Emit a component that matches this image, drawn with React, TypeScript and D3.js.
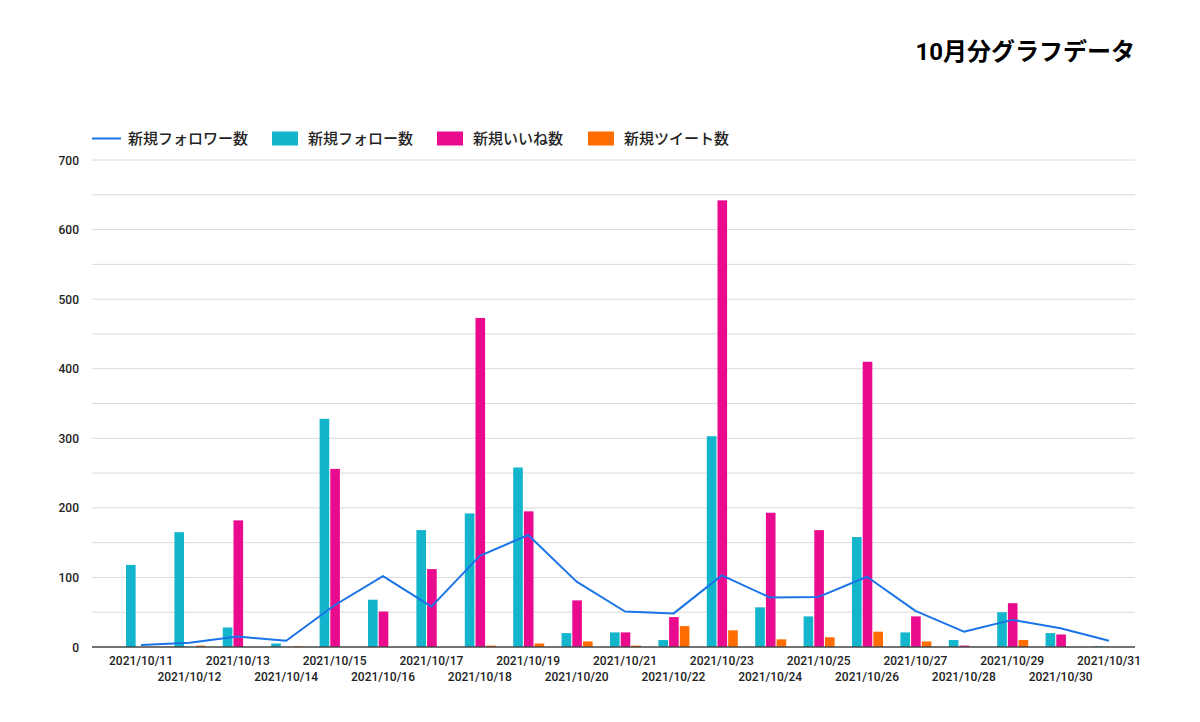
import React, { useRef, useEffect } from "react";
import * as d3 from "d3";

// Dates (2021/10/11 - 2021/10/31)
const dates: string[] = [
  "2021/10/11", "2021/10/12", "2021/10/13", "2021/10/14", "2021/10/15",
  "2021/10/16", "2021/10/17", "2021/10/18", "2021/10/19", "2021/10/20",
  "2021/10/21", "2021/10/22", "2021/10/23", "2021/10/24", "2021/10/25",
  "2021/10/26", "2021/10/27", "2021/10/28", "2021/10/29", "2021/10/30",
  "2021/10/31",
];

// 新規フォロワー数 (line)
const followers: number[] = [3, 6, 15, 9, 60, 102, 58, 131, 161, 94, 51, 48, 103, 71, 72, 101, 52, 22, 39, 27, 9];
// 新規フォロー数 (bar)
const follows: number[] = [118, 165, 28, 5, 328, 68, 168, 192, 258, 20, 21, 10, 303, 57, 44, 158, 21, 10, 50, 20, 1];
// 新規いいね数 (bar)
const likes: number[] = [0, 0, 182, 0, 256, 51, 112, 473, 195, 67, 21, 43, 642, 193, 168, 410, 44, 2, 63, 18, 0];
// 新規ツイート数 (bar)
const tweets: number[] = [0, 2, 0, 1, 0, 0, 0, 2, 5, 8, 2, 30, 24, 11, 14, 22, 8, 0, 10, 0, 0];

const yTicks: number[] = [0, 100, 200, 300, 400, 500, 600, 700];

const barSeries = [
  { name: "新規フォロー数", values: follows, color: "#12b5cb" },
  { name: "新規いいね数", values: likes, color: "#ea0a8e" },
  { name: "新規ツイート数", values: tweets, color: "#ff6d01" },
];
const lineColor = "#1a73e8";
const lineName = "新規フォロワー数";

const font = "Roboto, 'Noto Sans CJK JP', sans-serif";

const App: React.FC = () => {
  const svgRef = useRef<SVGSVGElement>(null);

  useEffect(() => {
    const width = 1200;
    const height = 722;
    const gridLeft = 92;
    const gridRight = 1135;

    const svg = d3.select(svgRef.current);
    svg.selectAll("*").remove();
    svg.attr("width", width).attr("height", height);

    svg.append("rect").attr("width", width).attr("height", height).attr("fill", "#fff");

    const x = d3.scaleBand().domain(dates).range([116.8, 1133.2]).paddingInner(0).paddingOuter(0);
    const y = d3.scaleLinear().domain([0, 700]).range([647, 160]);
    const inner = d3
      .scaleBand()
      .domain(barSeries.map(s => s.name))
      .range([-15, 16])
      .paddingInner(0.1);

    const cx = (d: string) => (x(d) ?? 0) + x.bandwidth() / 2;

    // gridlines every 50
    const grid = d3.range(50, 701, 50);
    svg.append("g")
      .selectAll("line")
      .data(grid)
      .enter()
      .append("line")
      .attr("x1", gridLeft)
      .attr("x2", gridRight)
      .attr("y1", d => y(d))
      .attr("y2", d => y(d))
      .attr("stroke", "#dadada")
      .attr("stroke-width", 1);

    // y labels
    svg.append("g")
      .selectAll("text")
      .data(yTicks)
      .enter()
      .append("text")
      .attr("x", 79)
      .attr("y", d => y(d) + 4.5)
      .attr("text-anchor", "end")
      .attr("font-family", font)
      .attr("font-size", 12)
      .attr("font-weight", 500)
      .attr("fill", "#222")
      .text(d => d);

    // bars
    barSeries.forEach(s => {
      svg.append("g")
        .selectAll("rect")
        .data(s.values.map((v, i) => ({ date: dates[i], v })))
        .enter()
        .append("rect")
        .attr("x", d => cx(d.date) + (inner(s.name) ?? 0))
        .attr("width", inner.bandwidth())
        .attr("y", d => y(d.v))
        .attr("height", d => y(0) - y(d.v))
        .attr("fill", s.color);
    });

    // baseline
    svg.append("line")
      .attr("x1", gridLeft)
      .attr("x2", gridRight)
      .attr("y1", y(0))
      .attr("y2", y(0))
      .attr("stroke", "#444")
      .attr("stroke-width", 1.5);

    // line series
    const line = d3
      .line<number>()
      .x((_, i) => cx(dates[i]))
      .y(d => y(d));
    svg.append("path")
      .datum(followers)
      .attr("d", line)
      .attr("fill", "none")
      .attr("stroke", lineColor)
      .attr("stroke-width", 2)
      .attr("stroke-linejoin", "round");

    // x labels, staggered in two rows
    svg.append("g")
      .selectAll("text")
      .data(dates)
      .enter()
      .append("text")
      .attr("x", d => cx(d))
      .attr("y", (_, i) => (i % 2 === 0 ? 665 : 681))
      .attr("text-anchor", "middle")
      .attr("font-family", font)
      .attr("font-size", 12)
      .attr("font-weight", 500)
      .attr("fill", "#222")
      .text(d => d);

    // legend
    const legend = svg.append("g")
      .attr("font-family", font)
      .attr("font-size", 15)
      .attr("font-weight", 500)
      .attr("fill", "#222");
    legend.append("line")
      .attr("x1", 92).attr("x2", 121).attr("y1", 138.5).attr("y2", 138.5)
      .attr("stroke", lineColor).attr("stroke-width", 2);
    legend.append("text").attr("x", 128).attr("y", 144).text(lineName);
    const swatchX = [272, 437, 588];
    barSeries.forEach((s, i) => {
      legend.append("rect")
        .attr("x", swatchX[i]).attr("y", 131.5).attr("width", 26).attr("height", 14)
        .attr("fill", s.color);
      legend.append("text").attr("x", swatchX[i] + 36).attr("y", 144).text(s.name);
    });

    // title
    svg.append("text")
      .attr("x", 1135)
      .attr("y", 60)
      .attr("text-anchor", "end")
      .attr("font-family", font)
      .attr("font-size", 24)
      .attr("font-weight", "bold")
      .attr("fill", "#000")
      .text("10月分グラフデータ");
  }, []);

  return (
    <div style={{ position: "absolute", left: 0, top: 0, width: "1200px", height: "722px" }}>
      <svg ref={svgRef} style={{ display: "block" }} />
    </div>
  );
};

export default App;
